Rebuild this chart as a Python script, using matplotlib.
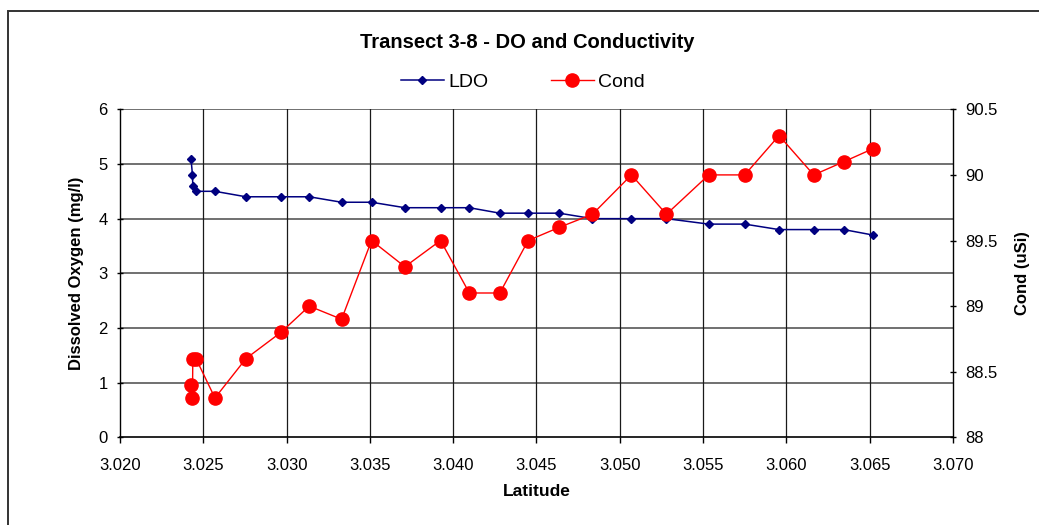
import matplotlib
matplotlib.use("Agg")
import matplotlib.pyplot as plt
from matplotlib.patches import Rectangle
from matplotlib.lines import Line2D

plt.rcParams['font.family'] = ['Liberation Sans', 'DejaVu Sans']

# Data
latitude = [3.02426, 3.02435, 3.02437, 3.02456, 3.02570, 3.02756, 3.02966,
            3.03136, 3.03330, 3.03510, 3.03710, 3.03924, 3.04097, 3.04280,
            3.04450, 3.04636, 3.04836, 3.05070, 3.05280, 3.05534, 3.05750,
            3.05956, 3.06164, 3.06344, 3.06520]
ldo = [5.1, 4.8, 4.6, 4.5, 4.5, 4.4, 4.4, 4.4, 4.3, 4.3, 4.2, 4.2, 4.2,
       4.1, 4.1, 4.1, 4.0, 4.0, 4.0, 3.9, 3.9, 3.8, 3.8, 3.8, 3.7]
cond = [88.4, 88.3, 88.6, 88.6, 88.3, 88.6, 88.8, 89.0, 88.9, 89.5, 89.3,
        89.5, 89.1, 89.1, 89.5, 89.6, 89.7, 90.0, 89.7, 90.0, 90.0, 90.3,
        90.0, 90.1, 90.2]

x_ticks = [3.020, 3.025, 3.030, 3.035, 3.040, 3.045, 3.050, 3.055, 3.060, 3.065, 3.070]
do_ticks = [0, 1, 2, 3, 4, 5, 6]
cond_ticks = [88, 88.5, 89, 89.5, 90, 90.5]

fig = plt.figure(figsize=(10.39, 5.25), dpi=100)
ax = fig.add_axes([0.1155, 0.167, 0.8017, 0.6248])

# chart area border (Excel style)
fig.patches.append(Rectangle((8 / 1039, -0.2), 1.2, 1 - 11 / 525 + 0.2,
                             transform=fig.transFigure, fill=False,
                             edgecolor='#333333', linewidth=1.4))

ax.set_xlim(3.020, 3.070)
ax.set_ylim(0, 6)
ax.set_xticks(x_ticks)
ax.set_xticklabels(['%.3f' % t for t in x_ticks])
ax.set_yticks(do_ticks)

# grid
for t in do_ticks[1:]:
    ax.axhline(t, color='#707070', linewidth=1.4, zorder=0)
for t in x_ticks[1:-1]:
    ax.axvline(t, color='#1a1a1a', linewidth=0.9, zorder=0)

ax.plot(latitude, ldo, color='#000080', linewidth=1.1, marker='D',
        markersize=4.5, zorder=3)

ax2 = ax.twinx()
ax2.set_ylim(88, 90.5)
ax2.set_yticks(cond_ticks)
ax2.set_yticklabels(['%g' % t for t in cond_ticks])
ax2.plot(latitude, cond, color='#ff0000', linewidth=1.0, marker='o',
         markersize=9.5, zorder=3)

for a in (ax, ax2):
    a.spines['top'].set_visible(False)
    a.spines['left'].set_linewidth(1.0)
    a.spines['right'].set_linewidth(1.0)
    a.spines['bottom'].set_linewidth(1.2)
    a.tick_params(axis='y', direction='inout', length=5, width=1.0,
                  labelsize=12, pad=6.5)
ax.spines['right'].set_visible(False)
ax2.spines['left'].set_visible(False)
ax2.spines['bottom'].set_visible(False)
ax.tick_params(axis='x', direction='out', length=4, width=1.0,
               labelsize=12, pad=11)

ax.set_xlabel('Latitude', fontsize=12.5, fontweight='bold', labelpad=8)
ax.set_ylabel('Dissolved Oxygen (mg/l)', fontsize=12, fontweight='bold',
              labelpad=10)
ax2.set_ylabel('Cond (uSi)', fontsize=12, fontweight='bold', labelpad=12)

fig.text(527 / 1039, 1 - 42 / 525, 'Transect 3-8 - DO and Conductivity',
         ha='center', va='center', fontsize=14.5, fontweight='bold')

handles = [Line2D([], [], color='#000080', linewidth=1.1, marker='D', markersize=4.5),
           Line2D([], [], color='#ff0000', linewidth=1.0, marker='o', markersize=9.5)]
fig.legend(handles, ['LDO', 'Cond'], loc='center',
           bbox_to_anchor=(523 / 1039, 1 - 82 / 525), ncol=2, frameon=False,
           fontsize=14, handlelength=2.2, handletextpad=0.25,
           columnspacing=3.2)

fig.savefig('out.png', dpi=100)
